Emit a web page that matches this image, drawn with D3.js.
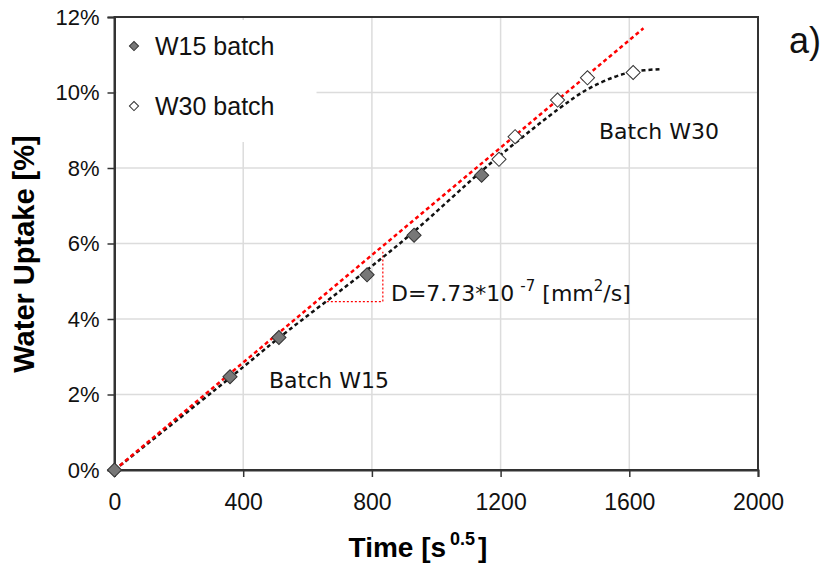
<!DOCTYPE html>
<html>
<head>
<meta charset="utf-8">
<script src="https://cdn.jsdelivr.net/npm/d3@7"></script>
<style>
  body { margin: 0; background: #fff; }
  svg { display: block; }
</style>
</head>
<body>
<svg id="chart" width="831" height="569"></svg>
<script>
// measured points, time in s^0.5, uptake as fraction
const w15Time = [0, 359, 511, 785, 931, 1141];
const w15Uptake = [0, 0.0247, 0.0351, 0.0517, 0.0622, 0.0781];
const w30Time = [1195, 1245, 1377, 1470, 1612];
const w30Uptake = [0.0823, 0.0883, 0.0980, 0.1039, 0.1053];

// fitted curve (black dashed) and linear fit (red dashed)
const fitTime = [0, 360, 511, 785, 931, 1141, 1245, 1381, 1469, 1550, 1611, 1696];
const fitUptake = [0, 0.0245, 0.0350, 0.0530, 0.0632, 0.0792, 0.0866, 0.0957, 0.1008, 0.1040, 0.1055, 0.1062];
const linTime = [0, 1644];
const linUptake = [0, 0.117];

// slope triangle
const triTime = [660, 834, 834];
const triUptake = [0.0446, 0.0446, 0.0578];

const xTicks = [0, 400, 800, 1200, 1600, 2000];
const yTicks = [0, 0.02, 0.04, 0.06, 0.08, 0.10, 0.12];

const svg = d3.select("#chart");
const x = d3.scaleLinear().domain([0, 2000]).range([114.5, 758]);
const y = d3.scaleLinear().domain([0, 0.12]).range([470, 17]);

// grid
svg.append("g").selectAll("line").data(xTicks.slice(1, -1)).join("line")
  .attr("x1", d => x(d)).attr("x2", d => x(d))
  .attr("y1", y(0.12)).attr("y2", y(0))
  .attr("stroke", "#dcdcdc").attr("stroke-width", 1.5);
svg.append("g").selectAll("line").data(yTicks.slice(1, -1)).join("line")
  .attr("x1", x(0)).attr("x2", x(2000))
  .attr("y1", d => y(d)).attr("y2", d => y(d))
  .attr("stroke", "#dcdcdc").attr("stroke-width", 1.5);

// white box behind legend
svg.append("rect").attr("x", x(0) + 2).attr("y", 20).attr("width", 200).attr("height", 122).attr("fill", "#fff");

// frame
svg.append("rect").attr("x", x(0)).attr("y", y(0.12))
  .attr("width", x(2000) - x(0)).attr("height", y(0) - y(0.12))
  .attr("fill", "none").attr("stroke", "#333").attr("stroke-width", 2);

// axes
const xAxis = svg.append("g").attr("transform", `translate(0,${y(0)})`)
  .call(d3.axisBottom(x).tickValues(xTicks).tickSize(7).tickPadding(17).tickFormat(d3.format("d")));
const yAxis = svg.append("g").attr("transform", `translate(${x(0)},0)`)
  .call(d3.axisLeft(y).tickValues(yTicks).tickSize(7).tickPadding(8).tickFormat(d3.format(".0%")));
[xAxis, yAxis].forEach(a => {
  a.select(".domain").attr("stroke", "#333").attr("stroke-width", 2);
  a.selectAll(".tick line").attr("stroke", "#333").attr("stroke-width", 1.5);
  a.selectAll("text").attr("font-family", "Liberation Sans, Arial, sans-serif").attr("fill", "#111");
});
xAxis.selectAll("text").attr("font-size", 23);
yAxis.selectAll("text").attr("font-size", 22);

// axis titles
svg.append("text").attr("x", 418).attr("y", 557).attr("text-anchor", "middle")
  .attr("font-family", "Liberation Sans, Arial, sans-serif").attr("font-weight", "bold").attr("font-size", 28)
  .call(t => {
    t.append("tspan").text("Time [s");
    t.append("tspan").attr("font-size", 18).attr("dy", -12).attr("dx", 4).text("0.5");
    t.append("tspan").attr("dy", 12).attr("dx", 3).text("]");
  });
svg.append("text").attr("transform", "translate(34,254) rotate(-90)").attr("text-anchor", "middle")
  .attr("font-family", "Liberation Sans, Arial, sans-serif").attr("font-weight", "bold").attr("font-size", 29)
  .text("Water Uptake [%]");

const line = d3.line().x(d => x(d[0])).y(d => y(d[1]));

// slope triangle
svg.append("path").datum(d3.zip(triTime, triUptake)).attr("d", line)
  .attr("fill", "none").attr("stroke", "#f00").attr("stroke-width", 1.2).attr("stroke-dasharray", "2,2");

// fit curve
svg.append("path").datum(d3.zip(fitTime, fitUptake))
  .attr("d", d3.line().curve(d3.curveCatmullRom).x(d => x(d[0])).y(d => y(d[1])))
  .attr("fill", "none").attr("stroke", "#111").attr("stroke-width", 2.5).attr("stroke-dasharray", "4,3");

// linear fit
svg.append("path").datum(d3.zip(linTime, linUptake)).attr("d", line)
  .attr("fill", "none").attr("stroke", "#f00").attr("stroke-width", 2.5).attr("stroke-dasharray", "4,3");

// markers
const diamond = d3.symbol(d3.symbolSquare, 100)();
const smallDiamond = d3.symbol(d3.symbolSquare, 42)();
svg.append("g").selectAll("path").data(d3.zip(w15Time, w15Uptake)).join("path")
  .attr("d", diamond)
  .attr("transform", d => `translate(${x(d[0])},${y(d[1])}) rotate(45)`)
  .attr("fill", "#777").attr("stroke", "#333").attr("stroke-width", 1);
svg.append("g").selectAll("path").data(d3.zip(w30Time, w30Uptake)).join("path")
  .attr("d", diamond)
  .attr("transform", d => `translate(${x(d[0])},${y(d[1])}) rotate(45)`)
  .attr("fill", "#fff").attr("stroke", "#333").attr("stroke-width", 1);

// legend
const legend = [["W15 batch", "#777"], ["W30 batch", "#fff"]];
legend.forEach((l, i) => {
  const ly = 46 + i * 60;
  svg.append("path").attr("d", smallDiamond)
    .attr("transform", `translate(134,${ly}) rotate(45)`)
    .attr("fill", l[1]).attr("stroke", "#333").attr("stroke-width", 1);
  svg.append("text").attr("x", 155).attr("y", ly + 9)
    .attr("font-family", "Liberation Sans, Arial, sans-serif").attr("font-size", 25).attr("fill", "#111")
    .text(l[0]);
});

// annotations
const ann = svg.append("g").attr("font-family", "DejaVu Sans, sans-serif").attr("font-size", 22).attr("fill", "#111");
ann.append("text").attr("x", 269).attr("y", 388).text("Batch W15");
ann.append("text").attr("x", 599).attr("y", 139).text("Batch W30");
ann.append("text").attr("x", 391).attr("y", 301).call(t => {
  t.append("tspan").text("D=7.73*10");
  t.append("tspan").attr("dx", 6).attr("dy", -10).attr("font-size", 15).text("-7");
  t.append("tspan").attr("dx", 7).attr("dy", 10).text("[mm");
  t.append("tspan").attr("dy", -10).attr("font-size", 15).text("2");
  t.append("tspan").attr("dy", 10).text("/s]");
});

// panel label
svg.append("text").attr("x", 789).attr("y", 53)
  .attr("font-family", "Liberation Sans, Arial, sans-serif").attr("font-size", 36).attr("fill", "#111")
  .text("a)");
</script>
</body>
</html>
